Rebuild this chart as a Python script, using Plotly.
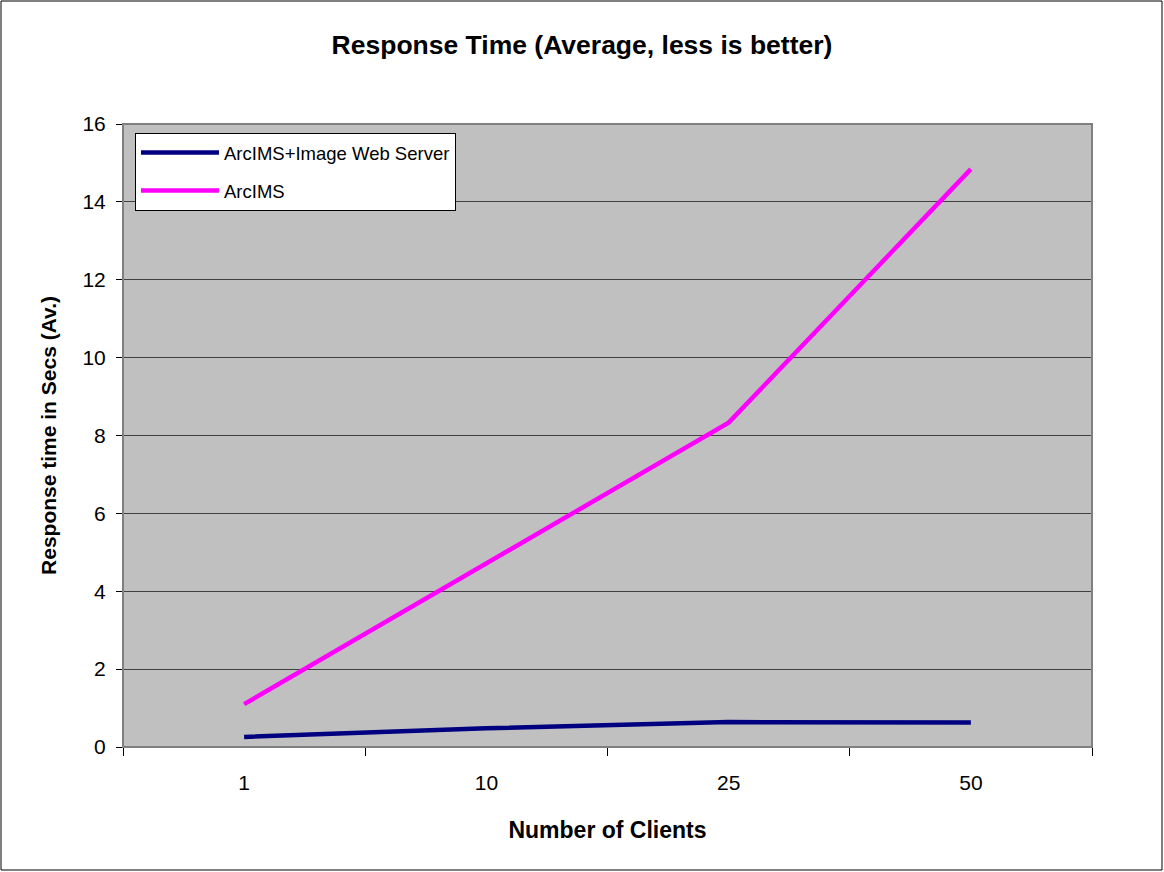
import plotly.graph_objects as go

categories = ["1", "10", "25", "50"]
arcims_iws = [0.26, 0.48, 0.64, 0.63]
arcims = [1.10, 4.72, 8.33, 14.84]
y_ticks = [0, 2, 4, 6, 8, 10, 12, 14, 16]

FONT = "Liberation Sans, Arial, sans-serif"
W, H = 1164, 872
L, R, T, B = 123, 1092, 124, 747  # plot area in page pixels
pw, ph = R - L, B - T

fig = go.Figure()
fig.add_trace(go.Scatter(x=categories, y=arcims_iws, mode="lines",
                         name="ArcIMS+Image Web Server", legendgroup="a",
                         line=dict(color="#000080", width=4.5)))
fig.add_trace(go.Scatter(x=categories, y=arcims, mode="lines",
                         name="ArcIMS", legendgroup="b",
                         line=dict(color="#FF00FF", width=4.5)))

fig.update_layout(
    width=W, height=H,
    margin=dict(l=L, r=W - R, t=T, b=H - B),
    paper_bgcolor="white",
    plot_bgcolor="#C0C0C0",
    font=dict(family=FONT, color="black", size=20),
    title=dict(text="<b>Response Time (Average, less is better)</b>",
               x=0.5, xref="container", xanchor="center",
               y=1 - 45/H, yanchor="middle",
               font=dict(family=FONT, size=26.5, color="black")),
    showlegend=True,
    legend=dict(x=(135 - L)/pw, y=(B - 133)/ph, xanchor="left", yanchor="top",
                bgcolor="white", bordercolor="black", borderwidth=1,
                itemwidth=78, tracegroupgap=11,
                font=dict(family=FONT, size=18.5, color="black")),
    xaxis=dict(type="category", tickson="boundaries", ticks="outside",
               ticklen=8, tickcolor="black", showgrid=False,
               showline=True, linecolor="black", linewidth=1,
               ticklabelstandoff=17,
               tickfont=dict(family=FONT, size=21),
               title=dict(text="<b>Number of Clients</b>", standoff=28,
                          font=dict(family=FONT, size=23)),
               range=[-0.5, 3.5]),
    yaxis=dict(range=[0, 16], tickvals=y_ticks, ticks="outside", ticklen=6,
               tickcolor="black", showgrid=True, gridcolor="#404040",
               gridwidth=1, showline=True, linecolor="black", linewidth=1,
               zeroline=False, ticklabelstandoff=6,
               tickfont=dict(family=FONT, size=21),
               title=dict(text="<b>Response time in Secs (Av.)</b>", standoff=20,
                          font=dict(family=FONT, size=21))),
    shapes=[
        dict(type="rect", xref="paper", yref="paper", x0=0, x1=1, y0=0, y1=1,
             line=dict(color="#808080", width=2), layer="above"),
        dict(type="rect", xref="paper", yref="paper",
             x0=(1 - L)/pw, x1=(1162 - L)/pw,
             y0=(B - 870)/ph, y1=(B - 1)/ph,
             line=dict(color="black", width=1)),
    ],
)

fig.write_html("out.html", config={"displayModeBar": False},
               post_script="document.body.style.margin='0';document.body.style.overflow='hidden';")
